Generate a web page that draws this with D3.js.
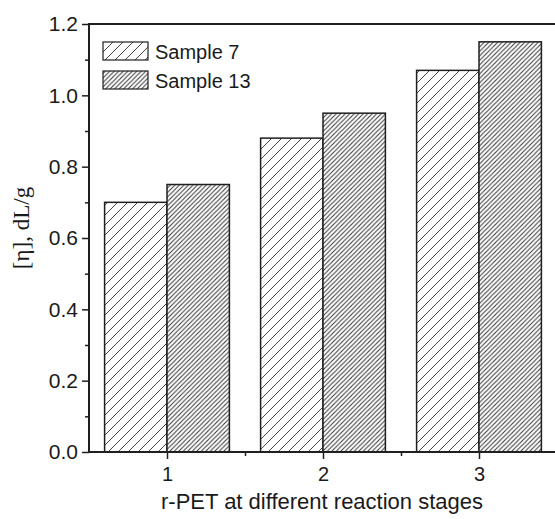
<!DOCTYPE html>
<html>
<head>
<meta charset="utf-8">
<script src="https://cdn.jsdelivr.net/npm/d3@7"></script>
<style>
body { margin: 0; background: #fff; }
text { font-family: "Liberation Sans", Arial, sans-serif; fill: #1a1a1a; }
</style>
</head>
<body>
<div id="chart"></div>
<script>
// data
var stages = [1, 2, 3];
var sample7 = [0.70, 0.88, 1.07];
var sample13 = [0.75, 0.95, 1.15];
var seriesNames = ["Sample 7", "Sample 13"];
var yTicks = [0.0, 0.2, 0.4, 0.6, 0.8, 1.0, 1.2];

const width = 555
const height = 519
const pLeft = 89, pTop = 24, pBottom = 452, pRight = 557
const barW = 0.4
const ink = '#1f1f1f'

let svg = d3.select('#chart')
  .append('svg')
  .attr('width', width)
  .attr('height', height)

// hatch patterns
let defs = svg.append('defs')
function hatch(id, step, col) {
  let p = defs.append('pattern')
    .attr('id', id)
    .attr('patternUnits', 'userSpaceOnUse')
    .attr('width', step)
    .attr('height', step)
  p.append('rect').attr('width', step).attr('height', step).attr('fill', '#fff')
  p.append('path')
    .attr('d', `M0,${step} L${step},0 M${-step/2},${step/2} L${step/2},${-step/2} M${step/2},${step*1.5} L${step*1.5},${step/2}`)
    .attr('stroke', col)
    .attr('stroke-width', 1)
}
hatch('h7', 10, '#444')
hatch('h13', 4.5, '#333')
let fills = ['url(#h7)', 'url(#h13)']

let x = d3.scaleLinear().domain([0.5, 3.5]).range([pLeft, pRight])
let y = d3.scaleLinear().domain([0, 1.2]).range([pBottom, pTop])

// bars
let series = [sample7, sample13]
series.forEach((vals, s) => {
  svg.append('g').selectAll('rect')
    .data(vals)
    .enter()
    .append('rect')
    .attr('x', (d, i) => s === 0 ? x(stages[i] - barW) : x(stages[i]))
    .attr('y', d => y(d))
    .attr('width', x(barW) - x(0))
    .attr('height', d => y(0) - y(d))
    .attr('fill', fills[s])
    .attr('stroke', ink)
    .attr('stroke-width', 1.5)
})

// axes
let yAxis = d3.axisLeft(y).tickValues(yTicks).tickFormat(d3.format('.1f')).tickSize(7).tickPadding(4)
let gy = svg.append('g').attr('transform', `translate(${pLeft},0)`).call(yAxis)
let yMinor = d3.axisLeft(y).tickValues(d3.range(0.1, 1.2, 0.2)).tickSize(4).tickFormat('')
svg.append('g').attr('transform', `translate(${pLeft},0)`).call(yMinor)

let xAxis = d3.axisBottom(x).tickValues(stages).tickFormat(d3.format('d')).tickSize(7).tickPadding(8)
let gx = svg.append('g').attr('transform', `translate(0,${pBottom})`).call(xAxis)
let xMinor = d3.axisBottom(x).tickValues([1.5, 2.5]).tickSize(4).tickFormat('')
svg.append('g').attr('transform', `translate(0,${pBottom})`).call(xMinor)

svg.selectAll('.domain').remove()
svg.selectAll('.tick line').attr('stroke', ink).attr('stroke-width', 1.5)
svg.selectAll('.tick text').attr('fill', '#1a1a1a')
  .style('font-family', '"Liberation Sans", Arial, sans-serif')
gy.selectAll('.tick text').attr('font-size', 21)
gx.selectAll('.tick text').attr('font-size', 20)

// frame
svg.append('path')
  .attr('d', `M${pLeft},${pBottom} L${pRight},${pBottom} M${pLeft},${pBottom} L${pLeft},${pTop} L${pRight},${pTop}`)
  .attr('fill', 'none')
  .attr('stroke', ink)
  .attr('stroke-width', 2)

// axis titles
svg.append('text')
  .attr('x', 322)
  .attr('y', 509)
  .attr('text-anchor', 'middle')
  .attr('font-size', 22)
  .text('r-PET at different reaction stages')

svg.append('text')
  .attr('transform', 'translate(29,228) rotate(-90)')
  .attr('text-anchor', 'middle')
  .attr('font-size', 23)
  .style('font-family', '"Liberation Serif", "Times New Roman", serif')
  .text('[η], dL/g')

// legend
let lg = svg.append('g').attr('transform', 'translate(103,42)')
seriesNames.forEach((n, i) => {
  lg.append('rect')
    .attr('x', 0).attr('y', i * 29)
    .attr('width', 45).attr('height', 18)
    .attr('fill', fills[i])
    .attr('stroke', ink).attr('stroke-width', 1.2)
  lg.append('text')
    .attr('x', 52).attr('y', i * 29 + 17)
    .attr('font-size', 20)
    .text(n)
})
</script>
</body>
</html>
